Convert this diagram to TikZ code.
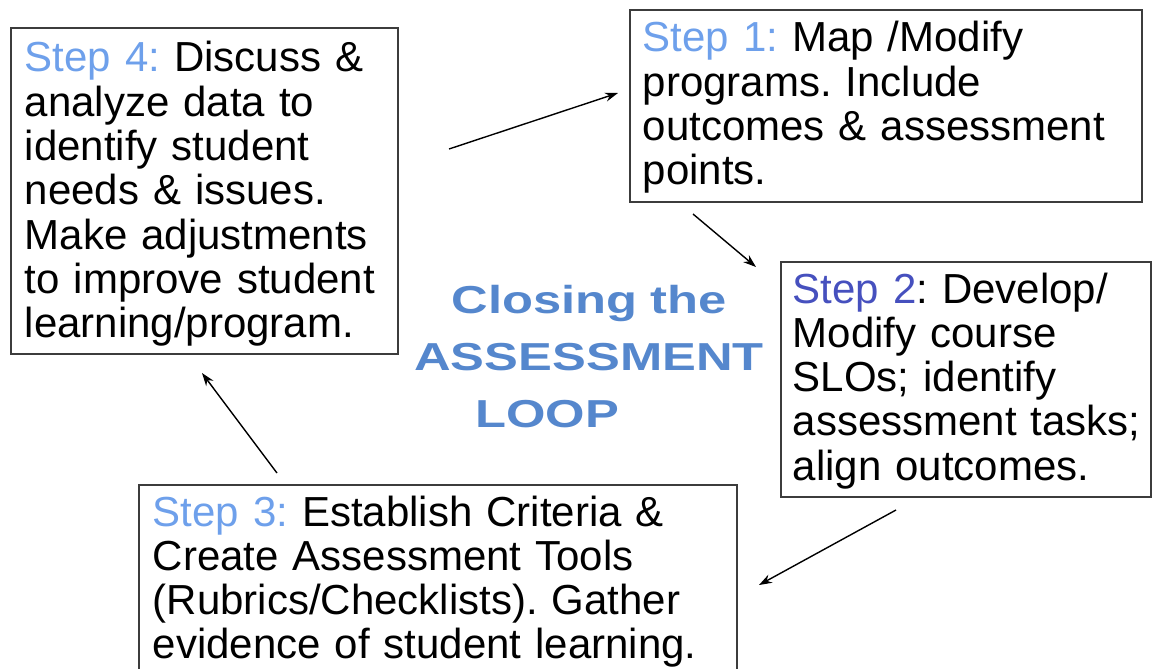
\documentclass[tikz,border=0pt]{standalone}
\usepackage{fontspec}
\setmainfont{Liberation Sans}
\newfontfamily\loopfont[FakeStretch=1.3]{Liberation Sans}
\usetikzlibrary{arrows.meta}
\frenchspacing

\definecolor{steplight}{RGB}{110,160,235}
\definecolor{stepdark}{RGB}{70,80,190}
\definecolor{loopblue}{RGB}{85,135,205}
\definecolor{boxline}{RGB}{60,60,60}

\tikzset{
  stepbox/.style={draw=boxline, line width=2.2pt, inner sep=0pt, anchor=north west},
  steptext/.style={anchor=base west, inner sep=0pt, text width=560pt, align=left,
    font=\fontsize{42}{44.3}\selectfont},
  looptext/.style={anchor=base, inner sep=0pt, text width=420pt, align=center,
    text=loopblue, font=\loopfont\bfseries\fontsize{39}{57}\selectfont}
}

\begin{document}
\begin{tikzpicture}[x=1pt, y=-1pt, >={Stealth[length=13pt,width=9pt]}, line width=1.4pt]
  \newcommand*{\StepA}[1]{\textcolor{steplight}{#1}}
  \useasboundingbox (0,0) rectangle (1157,669);
  \clip (0,0) rectangle (1157,669);
  % the four boxes
  \node[stepbox, minimum width=387pt, minimum height=326pt] (s4) at (10,27) {};
  \node[stepbox, minimum width=512pt, minimum height=192pt] (s1) at (629,9) {};
  \node[stepbox, minimum width=370pt, minimum height=235pt] (s2) at (780,261) {};
  \node[stepbox, minimum width=598pt, minimum height=240pt] (s3) at (138,484) {};
  % their texts
  \node[steptext] (t4) at ([shift={(14,45)}]s4.north west)
    {\StepA{Step 4:} Discuss \&\\ analyze data to\\ identify student\\ needs \& issues.\\
     Make adjustments\\ to improve student\\ learning/program.};
  \node[steptext] (t1) at ([shift={(13,43)}]s1.north west)
    {\StepA{Step 1:} Map /Modify\\ programs. Include\\ outcomes \& assessment\\ points.};
  \node[steptext] (t2) at ([shift={(12,42)}]s2.north west)
    {\textcolor{stepdark}{Step 2}: Develop/\\ Modify course\\ SLOs; identify\\
     assessment tasks;\\ align outcomes.};
  \node[steptext] (t3) at ([shift={(14,42)}]s3.north west)
    {\StepA{Step 3:} Establish Criteria \&\\ Create Assessment Tools\\
     (Rubrics/Checklists). Gather\\ evidence of student learning.};
  \node[looptext] (loop) at (589,313) {Closing the\\ ASSESSMENT\\ LOOP\hspace*{84pt}};
  % loop arrows
  \coordinate (a4) at (449,149);
  \coordinate (a1) at (618,93);
  \coordinate (b1) at (693,214);
  \coordinate (b2) at (756,267);
  \coordinate (c2) at (896,510);
  \coordinate (c3) at (759,585);
  \coordinate (d3) at (277,473);
  \coordinate (d4) at (202,373);
  \draw[->] (a4) -- (a1);
  \draw[->] (b1) -- (b2);
  \draw[->] (c2) -- (c3);
  \draw[->] (d3) -- (d4);
\end{tikzpicture}
\end{document}
